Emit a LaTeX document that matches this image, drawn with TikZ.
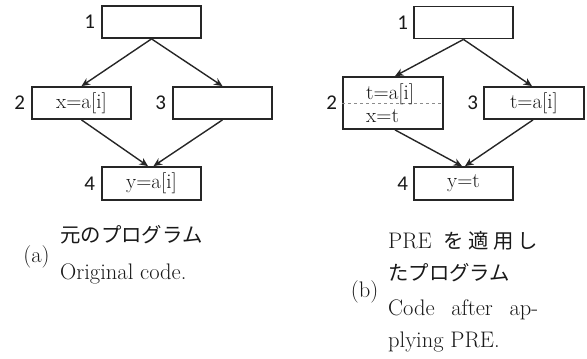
\documentclass[tikz,border=0pt]{standalone}
\usepackage{fontspec}
\newfontfamily\jpfont{Noto Sans CJK JP}
\newfontfamily\numfont{Carlito}
\usetikzlibrary{arrows.meta}

\begin{document}
\begin{tikzpicture}[x=1pt,y=-1pt,
  every node/.style={text=black!90},
  block/.style={draw=black!85, line width=1.8pt, minimum width=99pt,
    minimum height=32pt, inner sep=0pt, font=\fontsize{21}{24}\selectfont},
  num/.style={font=\numfont\fontsize{21}{24}\selectfont, anchor=east, inner sep=0pt},
  flow/.style={draw=black!85, line width=1.4pt, -{Stealth[length=8.5pt,width=7.5pt]}},
  capt/.style={font=\fontsize{22.5}{33}\selectfont, inner sep=0pt},
  jp/.style={font=\jpfont\fontsize{20.4}{33}\selectfont, inner sep=0pt}]
\useasboundingbox (0,0) rectangle (587,359);

% ---- (a) original flow graph ----
\node[block] (a1) at (151.5,22) {};
\node[block] (a2) at (81.5,103) {x=a[i]};
\node[block] (a3) at (222.5,103) {};
\node[block, minimum height=33pt] (a4) at (151.5,183.5) {y=a[i]};
\node[num] (a1n) at ([xshift=-6pt]a1.west) {1};
\node[num] (a2n) at ([xshift=-6pt]a2.west) {2};
\node[num] (a3n) at ([xshift=-6pt]a3.west) {3};
\node[num] (a4n) at ([xshift=-6pt]a4.west) {4};
\draw[flow] (a1.south) -- (a2.north);
\draw[flow] (a1.south) -- (a3.north);
\draw[flow] (a2.south) -- ([xshift=-3.5pt]a4.north);
\draw[flow] (a3.south) -- ([xshift=2pt]a4.north);

% ---- (b) after PRE ----
\node[block] (b1) at (463.5,22.5) {};
\node[block, minimum width=100pt, minimum height=52pt] (b2) at (393,103) {};
\draw[dashed, draw=black!45, line width=0.8pt] (b2.west) -- (b2.east);
\node[anchor=base west, inner sep=0pt, font=\fontsize{21}{24}\selectfont] (b2t) at (366,99) {t=a[i]};
\node[anchor=base west, inner sep=0pt, font=\fontsize{21}{24}\selectfont] (b2x) at (366,122) {x=t};
\node[block, minimum width=100pt] (b3) at (534,103) {t=a[i]};
\node[block, minimum height=33pt] (b4) at (463.5,183.5) {y=t};
\node[num] (b1n) at ([xshift=-5pt]b1.west) {1};
\node[num] (b2n) at ([xshift=-5pt]b2.west) {2};
\node[num] (b3n) at ([xshift=-5pt]b3.west) {3};
\node[num] (b4n) at ([xshift=-5pt]b4.west) {4};
\draw[flow] (b1.south) -- ([xshift=2pt]b2.north);
\draw[flow] (b1.south) -- ([xshift=-2pt]b3.north);
\draw[flow] ([xshift=2pt]b2.south) -- ([xshift=-1.5pt]b4.north);
\draw[flow] ([xshift=-1pt]b3.south) -- ([xshift=1.5pt]b4.north);

% ---- captions ----
\node[capt, anchor=base] (capa) at (36.5,262.5) {(a)};
\node[jp, anchor=base west] (capa1) at (60,242) {元のプログラム};
\node[capt, anchor=base west] (capa2) at (60,279) {Original code.};

\node[capt, anchor=base] (capb) at (364.5,297.5) {(b)};
\node[capt, anchor=base west] (capb1) at (388,248)
  {\makebox[150pt][s]{PRE\hspace{8pt plus 1fil}{\jpfont\fontsize{20.4}{33}\selectfont を\hfil 適\hfil 用\hfil し}}};
\node[jp, anchor=base west] (capb2) at (388,280) {たプログラム};
\node[capt, anchor=base west] (capb3) at (388,315) {\makebox[150pt][s]{Code after ap-}};
\node[capt, anchor=base west] (capb4) at (388,347) {plying PRE.};
\end{tikzpicture}
\end{document}
